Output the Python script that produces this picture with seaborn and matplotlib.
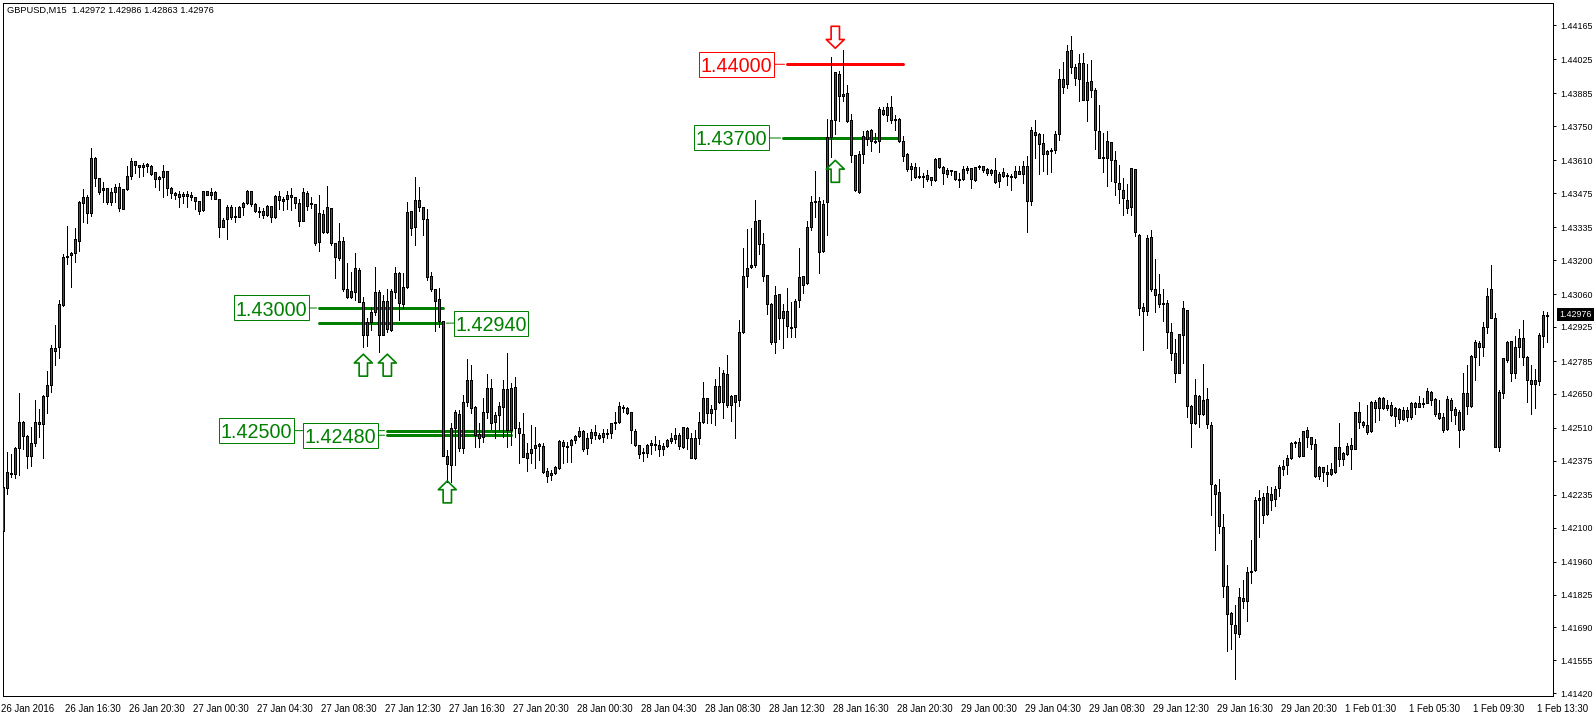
from __future__ import annotations

import matplotlib

matplotlib.use("Agg")

import matplotlib.pyplot as plt
import numpy as np
import pandas as pd
import seaborn as sns
from matplotlib.path import Path
from matplotlib.transforms import ScaledTranslation

# prices are kept as points above 1.40000, so 2976 means 1.42976
BASE = 1.4

highs = [
    2313,2411,2403,2432,2654,2539,2481,2514,2625,2588, 2646,2744,2851,2933,3036,3225,3340,3233,3332,3443,
    3492,3468,3661,3624,3537,3521,3496,3496,3513,3517, 3492,3587,3620,3607,3591,3599,3599,3591,3562,3546,
    3591,3566,3500,3480,3484,3480,3484,3480,3459,3443, 3484,3484,3496,3484,3451,3373,3426,3426,3418,3422,
    3439,3488,3484,3435,3418,3414,3426,3422,3468,3484, 3459,3484,3496,3459,3451,3496,3484,3459,3431,3468,
    3406,3505,3414,3270,3352,3295,3188,3151,3229,3168, 3048,2962,3007,3172,3077,3057,3081,3081,3172,3151,
    3147,3439,3402,3542,3500,3418,3410,3151,3081,3085, 2950,2419,2530,2584,2584,2646,2794,2769,2600,2530,
    2633,2732,2711,2576,2617,2707,2818,2695,2720,2535, 2572,2448,2522,2514,2448,2448,2346,2337,2354,2461,
    2461,2452,2465,2481,2514,2502,2489,2506,2522,2489, 2506,2506,2530,2576,2617,2604,2596,2576,2506,2440,
    2428,2444,2461,2477,2461,2448,2465,2489,2510,2489, 2514,2514,2489,2502,2576,2699,2633,2604,2711,2761,
    2748,2810,2646,2646,2954,3250,3328,3332,3447,3365, 3311,3139,3024,3094,3061,3020,3085,3028,3040,3250,
    3135,3361,3463,3566,3459,3447,3780,4035,3973,3977, 4063,3920,3800,3632,3648,3731,3735,3739,3722,3829,
    3829,3846,3874,3796,3784,3710,3640,3599,3599,3583, 3558,3570,3542,3620,3620,3587,3579,3570,3566,3558,
    3587,3587,3579,3583,3591,3587,3579,3574,3620,3562, 3579,3558,3554,3587,3587,3607,3628,3747,3776,3722,
    3718,3652,3661,3731,3985,4014,4084,4121,4006,4047, 4051,4006,4022,3907,3837,3722,3731,3685,3648,3591,
    3537,3513,3579,3574,3307,3024,3303,3324,3205,3143, 3081,3036,2941,2876,2896,3032,2995,2604,2711,2646,
    2773,2674,2535,2280,2300,2156,1947,1754,1782,1852, 1885,1939,2050,2226,2255,2243,2272,2267,2272,2358,
    2378,2399,2452,2456,2469,2498,2514,2473,2465,2354, 2350,2358,2366,2432,2530,2411,2448,2469,2576,2617,
    2539,2604,2621,2625,2637,2637,2625,2617,2596,2592, 2596,2596,2617,2617,2641,2633,2674,2662,2633,2625,
    2572,2641,2633,2596,2584,2736,2769,2810,2872,2867, 2946,3085,3180,2983,2666,2798,2867,2867,2888,2917,
    2954,2806,2769,2752,2900,2991,2986,
]
body_tops = [
    2267,2329,2325,2428,2535,2535,2477,2448,2535,2535, 2642,2687,2839,2839,3020,3213,3217,3229,3287,3439,
    3459,3459,3620,3620,3537,3496,3496,3480,3500,3500, 3492,3546,3607,3607,3591,3591,3595,3587,3562,3542,
    3566,3566,3496,3476,3472,3472,3472,3468,3459,3443, 3484,3484,3480,3480,3451,3365,3418,3418,3381,3418,
    3435,3484,3484,3431,3402,3402,3422,3422,3463,3463, 3451,3468,3468,3459,3435,3480,3476,3435,3431,3394,
    3389,3418,3414,3270,3278,3278,3081,3073,3168,3159, 3028,2946,2987,3069,3069,3032,3032,3073,3147,3147,
    3089,3398,3402,3447,3447,3418,3369,3135,3081,3040, 2950,2395,2510,2576,2567,2617,2707,2707,2596,2485,
    2576,2674,2674,2563,2600,2670,2670,2674,2678,2510, 2485,2407,2424,2440,2444,2436,2333,2325,2350,2456,
    2452,2436,2461,2477,2498,2498,2469,2493,2493,2481, 2489,2489,2530,2535,2600,2596,2592,2576,2498,2440,
    2411,2440,2448,2444,2440,2436,2461,2469,2481,2481, 2514,2510,2469,2469,2535,2633,2633,2588,2683,2683,
    2736,2732,2642,2646,2904,3135,3168,3180,3361,3365, 3266,3139,3020,3057,3061,2991,2991,2925,3032,3131,
    3135,3336,3439,3443,3443,3431,3706,3776,3973,3965, 3883,3887,3776,3632,3636,3710,3731,3735,3689,3821,
    3817,3829,3829,3780,3780,3689,3636,3587,3583,3546, 3546,3550,3542,3616,3620,3583,3570,3570,3566,3533,
    3574,3579,3579,3583,3587,3587,3574,3570,3570,3554, 3562,3550,3546,3566,3566,3587,3587,3735,3726,3718,
    3681,3648,3652,3718,3944,3944,4059,4063,3994,4010, 4010,3932,3936,3899,3731,3624,3689,3685,3611,3517,
    3488,3447,3579,3574,3303,3007,3291,3295,3081,3061, 3024,3024,2904,2818,2896,3003,2995,2600,2646,2642,
    2625,2629,2522,2276,2247,2103,1861,1750,1700,1815, 1811,1918,1922,2214,2222,2226,2243,2239,2259,2350,
    2354,2387,2448,2452,2452,2498,2502,2473,2444,2350, 2350,2329,2341,2432,2432,2407,2436,2440,2576,2576,
    2535,2522,2617,2617,2633,2633,2604,2604,2592,2588, 2584,2584,2613,2613,2613,2613,2662,2658,2629,2572,
    2555,2629,2625,2588,2576,2654,2654,2806,2863,2859, 2925,3052,3081,2962,2658,2798,2863,2867,2843,2880,
    2880,2802,2707,2707,2892,2974,2976,
]
body_bottoms = [
    2087,2263,2321,2321,2428,2477,2395,2395,2448,2526, 2526,2642,2687,2826,2843,3015,3213,3221,3229,3278,
    3435,3394,3394,3537,3480,3488,3439,3439,3480,3414, 3410,3492,3546,3591,3583,3583,3587,3554,3533,3533,
    3542,3496,3476,3468,3459,3463,3463,3459,3443,3402, 3406,3468,3468,3451,3336,3336,3369,3377,3377,3377,
    3418,3435,3431,3402,3398,3385,3385,3377,3377,3447, 3443,3451,3459,3435,3361,3361,3422,3431,3270,3274,
    3315,3315,3270,3213,3209,3081,3048,3048,3069,3028, 2892,2892,2946,2987,2892,2892,2917,2913,3069,3024,
    3020,3089,3332,3336,3418,3369,3131,3081,3032,2950, 2395,2362,2358,2510,2428,2428,2617,2592,2481,2469,
    2473,2576,2530,2535,2563,2596,2502,2502,2510,2489, 2391,2387,2407,2428,2436,2329,2313,2317,2325,2346,
    2436,2432,2440,2461,2477,2424,2428,2469,2481,2469, 2473,2485,2489,2530,2535,2592,2572,2502,2440,2403,
    2407,2407,2440,2440,2424,2424,2436,2456,2465,2436, 2432,2469,2387,2387,2469,2535,2572,2572,2588,2617,
    2617,2604,2604,2617,2625,2904,3135,3172,3180,3266, 3135,3020,2863,2863,2962,2962,2929,2921,2925,3036,
    3098,3106,3336,3439,3233,3237,3439,3706,3776,3874, 3874,3772,3632,3488,3480,3636,3698,3689,3685,3689,
    3800,3796,3776,3776,3689,3628,3574,3574,3542,3542, 3542,3533,3529,3529,3583,3558,3554,3566,3533,3529,
    3533,3570,3533,3529,3583,3570,3558,3558,3521,3525, 3546,3546,3542,3542,3554,3554,3443,3443,3714,3677,
    3636,3636,3650,3652,3718,3911,3924,3994,3948,3944, 3858,3858,3899,3735,3620,3620,3620,3611,3521,3492,
    3455,3414,3418,3315,3003,2991,2991,3081,3057,3020, 3020,2904,2818,2736,2736,2892,2600,2530,2530,2567,
    2567,2526,2280,2239,2107,1861,1745,1704,1667,1663, 1799,1799,1918,1926,2214,2152,2156,2214,2218,2263,
    2341,2358,2387,2448,2395,2395,2473,2444,2313,2313, 2329,2321,2321,2329,2383,2383,2403,2424,2424,2535,
    2522,2493,2498,2592,2592,2592,2592,2563,2559,2547, 2547,2555,2555,2596,2596,2609,2613,2625,2567,2551,
    2502,2506,2584,2563,2502,2506,2600,2600,2802,2843, 2843,2925,2962,2432,2432,2654,2789,2736,2736,2843,
    2802,2707,2691,2691,2703,2888,2972,
]
lows = [
    2070,2239,2308,2304,2317,2424,2346,2354,2436,2473, 2387,2572,2658,2769,2798,3011,3184,3089,3192,3237,
    3357,3352,3381,3505,3472,3439,3431,3426,3439,3402, 3410,3488,3533,3558,3542,3546,3562,3550,3500,3488,
    3459,3468,3455,3451,3418,3435,3418,3447,3410,3389, 3402,3468,3451,3451,3295,3336,3287,3369,3357,3377,
    3385,3431,3422,3398,3377,3373,3381,3357,3373,3410, 3406,3410,3406,3414,3340,3361,3406,3414,3262,3237,
    3311,3311,3262,3126,3200,3073,3044,3044,3036,3028, 2843,2847,2913,2974,2822,2892,2904,2909,3044,2954,
    3003,3085,3303,3262,3402,3303,3118,3073,2909,2925, 2395,2288,2288,2358,2415,2407,2600,2572,2432,2432,
    2452,2551,2506,2469,2502,2473,2432,2440,2473,2366, 2391,2333,2366,2346,2378,2325,2288,2296,2321,2341,
    2366,2370,2370,2448,2473,2415,2403,2448,2465,2465, 2452,2469,2469,2506,2530,2576,2567,2448,2436,2387,
    2374,2391,2403,2419,2395,2399,2432,2448,2448,2424, 2428,2424,2387,2383,2444,2530,2530,2530,2522,2613,
    2551,2596,2539,2469,2600,2900,3089,3168,3172,3225, 3114,2978,2855,2818,2876,2839,2884,2884,2884,3007,
    3065,3102,3324,3377,3147,3233,3303,3624,3718,3772, 3854,3768,3603,3484,3476,3599,3673,3648,3681,3644,
    3796,3772,3763,3735,3685,3607,3566,3529,3537,3537, 3500,3525,3509,3525,3579,3513,3542,3550,3529,3500,
    3529,3558,3496,3525,3574,3562,3550,3550,3517,3500, 3542,3509,3488,3537,3554,3517,3315,3426,3620,3554,
    3566,3554,3562,3640,3694,3887,3907,3969,3920,3854, 3858,3772,3870,3657,3620,3562,3505,3525,3468,3435,
    3385,3394,3385,3299,2974,2830,2974,3073,2987,3007, 2950,2839,2789,2699,2736,2777,2555,2432,2526,2514,
    2563,2510,2152,2008,2078,1815,1593,1602,1478,1651, 1770,1717,1873,1922,2062,2119,2152,2173,2189,2230,
    2317,2321,2383,2432,2391,2395,2432,2424,2308,2300, 2292,2272,2317,2325,2354,2358,2399,2341,2424,2510,
    2514,2485,2493,2535,2543,2588,2584,2559,2518,2530, 2543,2539,2547,2567,2596,2596,2613,2604,2559,2547,
    2493,2502,2539,2526,2432,2502,2567,2596,2707,2769, 2806,2900,2962,2432,2415,2633,2781,2703,2715,2802,
    2769,2617,2567,2592,2687,2843,2863,
]
# G closes above its open, R below
directions = (
    "GGGGGRRGGR" "GGGGGGGGGG" "GRGRRGRGGR" "GGGRRGRRRG" "GRRRRGRGRR" "GRGRRGGRGG" "GGRRRRGRGR" "GGRRRGRGRG"
    "RGRRGRRGGR" "RGGGRGRGGR" "GGRGRRRRRR" "RRGGRGGRRR" "GGRGGGRGRR" "RGGGGRRGGG" "RGGGGRGGRR" "GGGGGGRRRR"
    "RGGGRGGGGR" "GRRGGGRGGR" "GRGRGGGGGR" "RRRGRGRGGG" "RGGGRGGGGR" "GRRRGGGRGG" "RGRGRRRGRG" "RRRGRRGRRG"
    "GGRGGRRGRG" "RGRGRGRGRR" "RGGGGRGRRG" "RGRRRGGRRR" "RRGRRRGRRR" "GRRRGGRRGR" "GRRRRRRRRG" "RGGGGRGRGG"
    "GGGGRGRRRG" "RRGGRGGRGR" "RRGGGRGRGR" "GRGRGGGRRR" "RGRRRGRGGR" "GGRRGGGRGG" "RRRGGGG"
)

y_ticks = [
    1.41420, 1.41555, 1.41690, 1.41825, 1.41960, 1.42100, 1.42235, 1.42375, 1.42510, 1.42650, 1.42785,
    1.42925, 1.43060, 1.43200, 1.43335, 1.43475, 1.43610, 1.43750, 1.43885, 1.44025, 1.44165,
]
x_labels = [
    "26 Jan 2016", "26 Jan 16:30", "26 Jan 20:30", "27 Jan 00:30", "27 Jan 04:30", "27 Jan 08:30",
    "27 Jan 12:30", "27 Jan 16:30", "27 Jan 20:30", "28 Jan 00:30", "28 Jan 04:30", "28 Jan 08:30",
    "28 Jan 12:30", "28 Jan 16:30", "28 Jan 20:30", "29 Jan 00:30", "29 Jan 04:30", "29 Jan 08:30",
    "29 Jan 12:30", "29 Jan 16:30", "29 Jan 20:30", "1 Feb 01:30", "1 Feb 05:30", "1 Feb 09:30", "1 Feb 13:30",
]

# horizontal levels: label, price points, first bar, last bar, colour, box side and box offset in px
level_labels = ["1.43000", "1.42940", "1.42500", "1.42480", "1.43700", "1.44000"]
level_points = [3003, 2941, 2499, 2480, 3702, 4005]
level_starts = [79, 79, 96, 96, 195, 196]
level_ends = [110, 110, 127, 127, 224, 225]
level_colors = ["#008000", "#008000", "#008000", "#008000", "#008000", "#ff0000"]
level_sides = ["left", "right", "left", "left", "left", "left"]
level_gaps = [10, 10, 93, 9, 14, 13]

up_arrow_bars = [90, 96, 111, 208]
up_arrow_points = [2768, 2768, 2247, 3565]
down_arrow_bars = [208]
down_arrow_points = [4116]

last_price = "1.42976"
header = "GBPUSD,M15  1.42972 1.42986 1.42863 1.42976"

GREEN = "#008000"
RED = "#e80c0c"
FONT = "Liberation Sans"
W, H = 1596, 717
DPI = 100
PX = 72 / DPI

sns.set_theme(style="white")
plt.rcParams["font.family"] = [FONT, "DejaVu Sans"]


def to_price(points):
    return BASE + np.asarray(points, dtype=float) / 1e5


def label_box(x0, y0, width, height, mutation_size):
    # tight at the sides, more room above the digits than under them
    left, right = x0 - 1.5, x0 + width + 1.5
    bottom, top = y0 - 0.9, y0 + height + 5.1
    verts = [(left, bottom), (right, bottom), (right, top), (left, top), (left, bottom)]
    return Path(verts, closed=True)


bars = pd.DataFrame(
    {
        "bar": np.arange(len(highs)),
        "high": to_price(highs),
        "top": to_price(body_tops),
        "bottom": to_price(body_bottoms),
        "low": to_price(lows),
        "direction": list(directions),
    }
)
bars["open"] = np.where(bars["direction"] == "G", bars["bottom"], bars["top"])
bars["close"] = np.where(bars["direction"] == "G", bars["top"], bars["bottom"])

fig = plt.figure(figsize=(W / DPI, H / DPI), dpi=DPI, facecolor="white")
ax = fig.add_axes([2.5 / W, (H - 696) / H, 1551 / W, 693.5 / H])

for label, points, start, end, color, side, gap in zip(
    level_labels, level_points, level_starts, level_ends, level_colors, level_sides, level_gaps
):
    price = to_price(points)
    sns.lineplot(x=[start, end], y=[price, price], color=color, lw=3 * PX, errorbar=None, ax=ax, zorder=1)
    anchor = start if side == "left" else end
    offset = -gap if side == "left" else gap
    ax.annotate(
        label,
        xy=(anchor, price),
        xytext=(offset - (2 if side == "left" else -2), -2),
        textcoords="offset pixels",
        ha="right" if side == "left" else "left",
        va="center",
        color=color,
        fontsize=14.2,
        bbox=dict(boxstyle=label_box, fc="white", ec=color, lw=1 * PX),
        zorder=5,
    )
    leader_end = offset - 1 if side == "left" else offset + 1
    ax.annotate(
        "",
        xy=(anchor, price),
        xytext=(leader_end, 0),
        textcoords="offset pixels",
        arrowprops=dict(arrowstyle="-", color=color, lw=1 * PX, shrinkA=0, shrinkB=2),
        zorder=1,
    )

ax.vlines(bars["bar"], bars["low"], bars["high"], colors="black", lw=1 * PX, antialiased=False, zorder=3)
for direction, color in [("G", GREEN), ("R", RED)]:
    part = bars[bars["direction"] == direction]
    ax.bar(
        part["bar"],
        part["top"] - part["bottom"],
        bottom=part["bottom"],
        width=0.5,
        color=color,
        edgecolor="black",
        lw=1 * PX,
        antialiased=False,
        zorder=4,
    )

# hollow MT4 style arrows, outline points run around a unit box
arrow_verts = [
    (0, 1), (0.82, 0.2), (0.38, 0.2), (0.38, -1), (-0.38, -1), (-0.38, 0.2), (-0.82, 0.2), (0, 1),
]
arrow_codes = [Path.MOVETO] + [Path.LINETO] * 6 + [Path.CLOSEPOLY]
up_path = Path(arrow_verts, arrow_codes)
down_path = Path([(x, -y) for x, y in arrow_verts], arrow_codes)
sns.scatterplot(
    x=up_arrow_bars, y=to_price(up_arrow_points), marker=up_path, s=250,
    facecolor="none", edgecolor=GREEN, linewidth=1.2, ax=ax, zorder=6,
)
sns.scatterplot(
    x=down_arrow_bars, y=to_price(down_arrow_points), marker=down_path, s=250,
    facecolor="none", edgecolor="#ff0000", linewidth=1.2, ax=ax, zorder=6,
)

ax.set_xlim(-0.2, 387.55)
ax.set_ylim(to_price(1408), to_price(4259))
ax.yaxis.tick_right()
ax.set_yticks(y_ticks)
ax.set_yticklabels([f"{tick:.5f}" for tick in y_ticks])
ax.set_xticks(np.arange(len(x_labels)) * 16)
ax.set_xticklabels(x_labels)
ax.tick_params(axis="y", length=2.2, width=1 * PX, color="black", labelcolor="black", labelsize=6.4, pad=2.8)
ax.tick_params(axis="x", length=2.9, width=1 * PX, color="black", labelcolor="black", labelsize=6.9, pad=3)
ax.grid(False)
shift = ScaledTranslation(-2 / DPI, 0, fig.dpi_scale_trans)
for tick in ax.get_xticklabels():
    tick.set_ha("left")
    tick.set_transform(tick.get_transform() + shift)
for spine in ax.spines.values():
    spine.set_color("black")
    spine.set_linewidth(1 * PX)

ax.text(
    4.5 / 1551, 1 - 8 / 693.5, header, transform=ax.transAxes, ha="left", va="center",
    fontsize=6.7, color="black",
)
ax.text(
    1.0035, to_price(2976), last_price, transform=ax.get_yaxis_transform(), ha="left", va="center",
    fontsize=6.4, color="white", clip_on=False, zorder=7,
    bbox=dict(boxstyle="square,pad=0.25", fc="black", ec="black", lw=0),
)

fig.savefig("out.png", dpi=DPI)
plt.close(fig)
